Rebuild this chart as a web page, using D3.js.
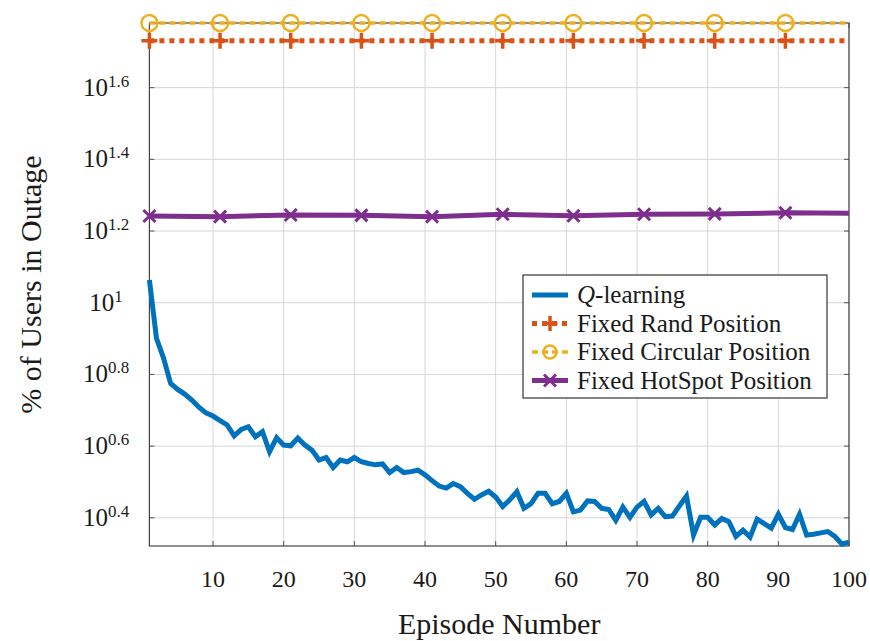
<!DOCTYPE html>
<html>
<head>
<meta charset="utf-8">
<script src="https://cdn.jsdelivr.net/npm/d3@7"></script>
<style>
  body { margin: 0; background: #fff; }
  text { font-family: "Liberation Serif", "Times New Roman", "DejaVu Serif", serif; fill: #1a1a1a; }
</style>
</head>
<body>
<script>
const episodes = d3.range(1, 101);

const qLearning = [
  11.57, 7.96, 7.01, 5.96, 5.73, 5.56, 5.35, 5.11, 4.93, 4.83,
  4.69, 4.56, 4.25, 4.43, 4.51, 4.23, 4.37, 3.84, 4.2, 4.01,
  3.99, 4.19, 4.01, 3.88, 3.64, 3.7, 3.47, 3.64, 3.6, 3.7,
  3.6, 3.56, 3.53, 3.55, 3.36, 3.47, 3.36, 3.38, 3.41, 3.31,
  3.19, 3.08, 3.04, 3.13, 3.07, 2.94, 2.83, 2.91, 2.98, 2.87,
  2.7, 2.82, 2.97, 2.67, 2.75, 2.94, 2.94, 2.75, 2.79, 2.94,
  2.61, 2.64, 2.8, 2.79, 2.67, 2.65, 2.47, 2.69, 2.52, 2.69,
  2.79, 2.56, 2.67, 2.53, 2.54, 2.71, 2.89, 2.25, 2.52, 2.52,
  2.4, 2.5, 2.45, 2.23, 2.32, 2.22, 2.49, 2.42, 2.35, 2.57,
  2.36, 2.33, 2.57, 2.25, 2.26, 2.28, 2.3, 2.23, 2.12, 2.15
];

const fixedEpisodes = [1, 11, 21, 31, 41, 51, 61, 71, 81, 91, 100];
const randValues = [53.8, 53.8, 53.8, 53.8, 53.8, 53.8, 53.8, 53.8, 53.8, 53.8, 53.8];
const circularValues = [60.3, 60.3, 60.3, 60.3, 60.3, 60.3, 60.3, 60.3, 60.3, 60.3, 60.3];
const hotspotValues = [17.45, 17.38, 17.57, 17.53, 17.38, 17.65, 17.49, 17.65, 17.69, 17.82, 17.76];

const xTicks = [10, 20, 30, 40, 50, 60, 70, 80, 90, 100];
const yTickExponents = ["0.4", "0.6", "0.8", "1", "1.2", "1.4", "1.6"];

const legendLabels = ["Q-learning", "Fixed Rand Position", "Fixed Circular Position", "Fixed HotSpot Position"];
const colors = ["#0072BD", "#D95319", "#EDB120", "#7E2F8E"];

const plotLeft = 149.4, plotRight = 849, plotTop = 23, plotBottom = 546;

const x = d3.scaleLinear().domain([1, 100]).range([plotLeft, plotRight]);
const y = d3.scaleLog().domain([2.096, 60.3]).range([plotBottom, plotTop]);

const svg = d3.select("body")
  .append("svg")
  .attr("width", 870)
  .attr("height", 641);

// grid
svg.append("g")
  .selectAll("line")
  .data(xTicks)
  .join("line")
  .attr("x1", d => x(d))
  .attr("x2", d => x(d))
  .attr("y1", plotTop)
  .attr("y2", plotBottom)
  .attr("stroke", "#d6d6d6")
  .attr("stroke-width", 1);

svg.append("g")
  .selectAll("line")
  .data(yTickExponents)
  .join("line")
  .attr("x1", plotLeft)
  .attr("x2", plotRight)
  .attr("y1", d => y(Math.pow(10, +d)))
  .attr("y2", d => y(Math.pow(10, +d)))
  .attr("stroke", "#d6d6d6")
  .attr("stroke-width", 1);

// inward ticks
const tickLen = 5;
svg.append("g")
  .selectAll("path")
  .data(xTicks)
  .join("path")
  .attr("d", d => `M${x(d)},${plotBottom}v${-tickLen}M${x(d)},${plotTop}v${tickLen}`)
  .attr("stroke", "#555")
  .attr("stroke-width", 1);

svg.append("g")
  .selectAll("path")
  .data(yTickExponents)
  .join("path")
  .attr("d", d => `M${plotLeft},${y(Math.pow(10, +d))}h${tickLen}M${plotRight},${y(Math.pow(10, +d))}h${-tickLen}`)
  .attr("stroke", "#555")
  .attr("stroke-width", 1);

// frame
svg.append("rect")
  .attr("x", plotLeft)
  .attr("y", plotTop)
  .attr("width", plotRight - plotLeft)
  .attr("height", plotBottom - plotTop)
  .attr("fill", "none")
  .attr("stroke", "#444")
  .attr("stroke-width", 1.2);

// tick labels
svg.append("g")
  .selectAll("text")
  .data(xTicks)
  .join("text")
  .attr("x", d => x(d))
  .attr("y", 587)
  .attr("text-anchor", "middle")
  .attr("font-size", 24)
  .text(d => d);

const yLabels = svg.append("g")
  .selectAll("text")
  .data(yTickExponents)
  .join("text")
  .attr("x", 106)
  .attr("y", d => y(Math.pow(10, +d)) + 8)
  .attr("text-anchor", "middle")
  .attr("font-size", 25);
yLabels.append("tspan").text("10");
yLabels.append("tspan")
  .attr("dy", -9)
  .attr("font-size", 17)
  .text(d => d);

// axis titles
svg.append("text")
  .attr("x", (plotLeft + plotRight) / 2)
  .attr("y", 634)
  .attr("text-anchor", "middle")
  .attr("font-size", 30)
  .text("Episode Number");

svg.append("text")
  .attr("transform", `translate(41, ${(plotTop + plotBottom) / 2}) rotate(-90)`)
  .attr("text-anchor", "middle")
  .attr("font-size", 30)
  .text("% of Users in Outage");

// marker shapes
const plusPath = s => `M${-s},0H${s}M0,${-s}V${s}`;
const crossPath = s => `M${-s},${-s}L${s},${s}M${-s},${s}L${s},${-s}`;

// Q-learning
svg.append("path")
  .datum(qLearning)
  .attr("d", d3.line().x((d, i) => x(episodes[i])).y(d => y(d)))
  .attr("fill", "none")
  .attr("stroke", colors[0])
  .attr("stroke-width", 5)
  .attr("stroke-linejoin", "miter");

// Fixed Rand
svg.append("path")
  .datum(randValues)
  .attr("d", d3.line().x((d, i) => x(fixedEpisodes[i])).y(d => y(d)))
  .attr("fill", "none")
  .attr("stroke", colors[1])
  .attr("stroke-width", 5)
  .attr("stroke-dasharray", "5,5");

svg.append("g")
  .selectAll("path")
  .data(randValues.slice(0, 10))
  .join("path")
  .attr("transform", (d, i) => `translate(${x(fixedEpisodes[i])},${y(d)})`)
  .attr("d", plusPath(8))
  .attr("stroke", colors[1])
  .attr("stroke-width", 3.5);

// Fixed Circular
svg.append("path")
  .datum(circularValues)
  .attr("d", d3.line().x((d, i) => x(fixedEpisodes[i])).y(d => y(d)))
  .attr("fill", "none")
  .attr("stroke", colors[2])
  .attr("stroke-width", 3.5)
  .attr("stroke-dasharray", "6,4");

svg.append("g")
  .selectAll("circle")
  .data(circularValues.slice(0, 10))
  .join("circle")
  .attr("cx", (d, i) => x(fixedEpisodes[i]))
  .attr("cy", d => y(d))
  .attr("r", 8)
  .attr("fill", "none")
  .attr("stroke", colors[2])
  .attr("stroke-width", 2.5);

// Fixed HotSpot
svg.append("path")
  .datum(hotspotValues)
  .attr("d", d3.line().x((d, i) => x(fixedEpisodes[i])).y(d => y(d)))
  .attr("fill", "none")
  .attr("stroke", colors[3])
  .attr("stroke-width", 5);

svg.append("g")
  .selectAll("path")
  .data(hotspotValues.slice(0, 10))
  .join("path")
  .attr("transform", (d, i) => `translate(${x(fixedEpisodes[i])},${y(d)})`)
  .attr("d", crossPath(6))
  .attr("stroke", colors[3])
  .attr("stroke-width", 3);

// legend
const legend = svg.append("g").attr("transform", "translate(523, 275)");

legend.append("rect")
  .attr("width", 304)
  .attr("height", 123)
  .attr("fill", "#fff")
  .attr("stroke", "#333")
  .attr("stroke-width", 1.2);

const rows = legend.selectAll("g")
  .data(legendLabels)
  .join("g")
  .attr("transform", (d, i) => `translate(0, ${20 + i * 28.5})`);

rows.append("line")
  .attr("x1", 9)
  .attr("x2", 45)
  .attr("stroke", (d, i) => colors[i])
  .attr("stroke-width", (d, i) => (i === 2 ? 3.5 : 5))
  .attr("stroke-dasharray", (d, i) => (i === 1 ? "5,5" : i === 2 ? "6,4" : null));

rows.filter((d, i) => i === 1)
  .append("path")
  .attr("transform", "translate(27, 0)")
  .attr("d", plusPath(7.5))
  .attr("stroke", colors[1])
  .attr("stroke-width", 3.5);

rows.filter((d, i) => i === 2)
  .append("circle")
  .attr("cx", 27)
  .attr("r", 6.5)
  .attr("fill", "none")
  .attr("stroke", colors[2])
  .attr("stroke-width", 2.5);

rows.filter((d, i) => i === 3)
  .append("path")
  .attr("transform", "translate(27, 0)")
  .attr("d", crossPath(6))
  .attr("stroke", colors[3])
  .attr("stroke-width", 3);

const labels = rows.append("text")
  .attr("x", 54)
  .attr("y", 8)
  .attr("font-size", 25);

labels.filter((d, i) => i === 0)
  .call(t => {
    t.append("tspan").attr("font-style", "italic").text("Q");
    t.append("tspan").text("-learning");
  });

labels.filter((d, i) => i > 0).text(d => d);
</script>
</body>
</html>
